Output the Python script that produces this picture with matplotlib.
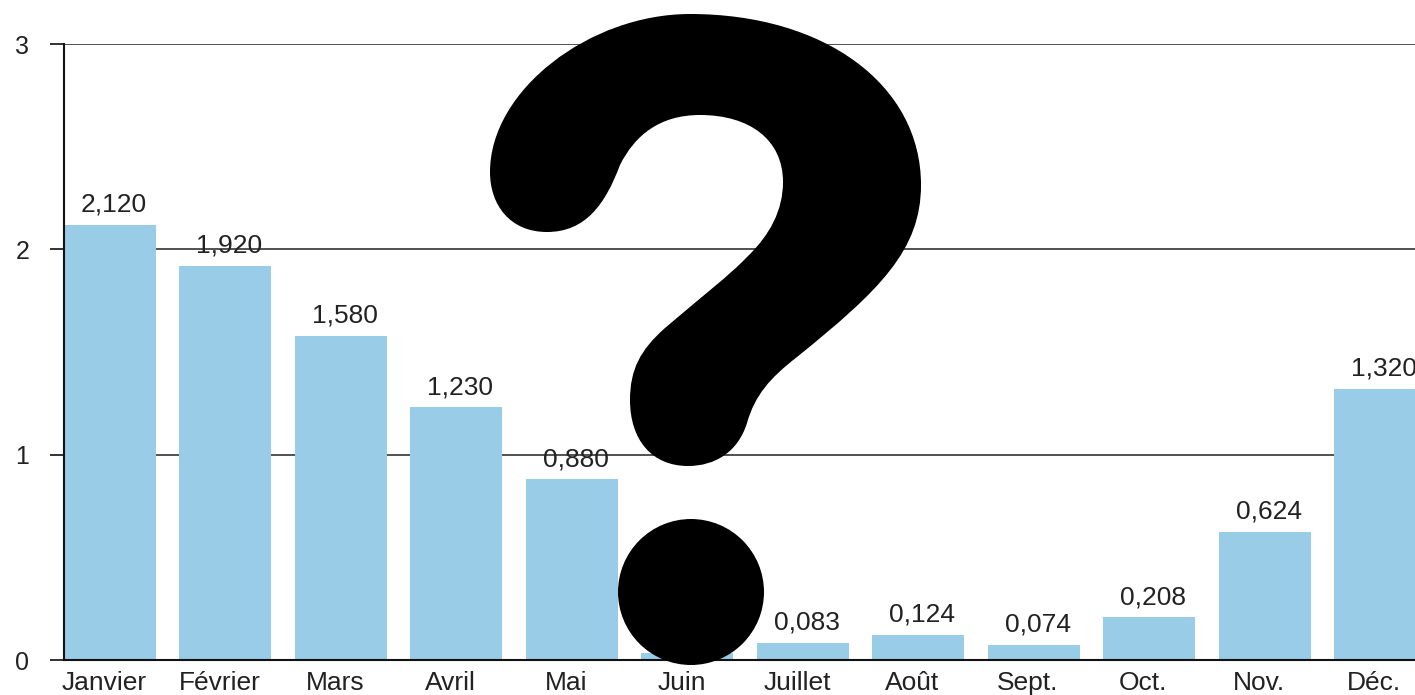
import matplotlib
matplotlib.use('Agg')
import matplotlib.pyplot as plt
from matplotlib.path import Path
from matplotlib.patches import PathPatch, Circle
from matplotlib.transforms import IdentityTransform, ScaledTranslation
import numpy as np

months = ['Janvier', 'Février', 'Mars', 'Avril', 'Mai', 'Juin', 'Juillet',
          'Août', 'Sept.', 'Oct.', 'Nov.', 'Déc.']
values = [2.120, 1.920, 1.580, 1.230, 0.880, 0.035, 0.083, 0.124, 0.074,
          0.208, 0.624, 1.320]
labels = ['2,120', '1,920', '1,580', '1,230', '0,880', '0,035', '0,083',
          '0,124', '0,074', '0,208', '0,624', '1,320']

W, H = 1415, 695
plt.rcParams['font.family'] = ['Liberation Sans', 'DejaVu Sans']

fig = plt.figure(figsize=(W / 100, H / 100), dpi=100)
ax = fig.add_axes([64 / W, (H - 660) / H, 1 - 64 / W, 616 / H])

x = np.arange(len(months))
ax.bar(x, values, width=0.796, color='#99cce6', zorder=2)
ax.set_xlim(-0.398, 11.30)
ax.set_ylim(0, 3)

ax.set_yticks([0, 1, 2, 3])
ax.set_xticks(x)
ax.set_xticklabels(months)
ax.yaxis.grid(True, color='#333333', linewidth=1.2, zorder=1)
ax.set_axisbelow(True)
ax.tick_params(axis='y', length=10, width=1.2, color='#111111', pad=15,
               labelsize=18, labelcolor='#222222')
ax.tick_params(axis='x', length=0, pad=8, labelsize=19, labelcolor='#222222')
for lab in ax.get_xticklabels():
    lab.set_transform(lab.get_transform() + ScaledTranslation(-6 / 100, 0, fig.dpi_scale_trans))

for s in ['top', 'right']:
    ax.spines[s].set_visible(False)
for s in ['left', 'bottom']:
    ax.spines[s].set_linewidth(1.5)
    ax.spines[s].set_color('#111111')
    ax.spines[s].set_zorder(3)

for xi, v, t in zip(x, values, labels):
    ax.annotate(t, (xi, v), xytext=(4, 13), textcoords='offset pixels',
                ha='center', va='baseline', fontsize=19, color='#222222',
                zorder=4, annotation_clip=False)


# question mark on top, drawn in image pixels (y measured from the top)
def px(p):
    return (p[0], H - p[1])


outline = [
    (Path.MOVETO, [(490, 172)]),
    (Path.CURVE4, [(490, 90), (590, 14), (690, 14)]),
    (Path.CURVE4, [(825, 14), (921, 85), (921, 185)]),
    (Path.CURVE4, [(921, 250), (880, 290), (797, 357)]),
    (Path.CURVE4, [(770, 378), (755, 395), (747, 423)]),
    (Path.CURVE4, [(738, 452), (715, 466), (688, 466)]),
    (Path.CURVE4, [(652, 466), (630, 440), (630, 400)]),
    (Path.CURVE4, [(630, 370), (640, 350), (665, 328)]),
    (Path.CURVE4, [(700, 298), (730, 275), (747, 257)]),
    (Path.CURVE4, [(770, 235), (783, 210), (783, 182)]),
    (Path.CURVE4, [(783, 140), (750, 115), (700, 115)]),
    (Path.CURVE4, [(660, 115), (635, 135), (620, 165)]),
    (Path.CURVE4, [(605, 205), (585, 232), (547, 232)]),
    (Path.CURVE4, [(510, 232), (490, 205), (490, 172)]),
]
verts, codes = [], []
for code, pts in outline:
    for p in pts:
        verts.append(px(p))
        codes.append(code)
verts.append(px((490, 172)))
codes.append(Path.CLOSEPOLY)
fig.add_artist(PathPatch(Path(verts, codes), facecolor='black', edgecolor='none',
                         transform=IdentityTransform(), zorder=10))
fig.add_artist(Circle(px((691, 592)), 73, facecolor='black', edgecolor='none',
                      transform=IdentityTransform(), zorder=10))

fig.savefig('out.png', dpi=100)
